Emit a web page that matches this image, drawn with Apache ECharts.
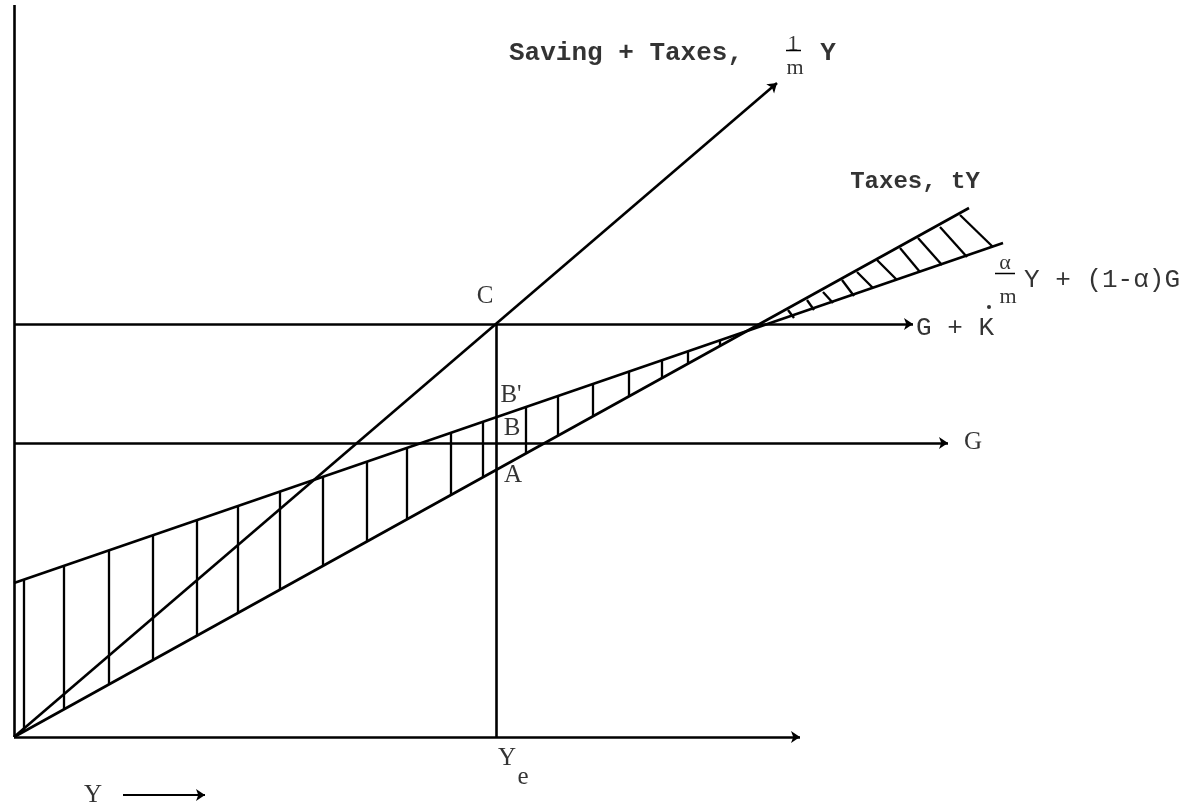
<!DOCTYPE html>
<html>
<head>
<meta charset="utf-8">
<script src="https://cdn.jsdelivr.net/npm/echarts@6/dist/echarts.min.js"></script>
<style>
  html, body { margin: 0; padding: 0; background: #fff; }
  #chart { width: 1197px; height: 812px; }
</style>
</head>
<body>
<div id="chart"></div>
<script>
// all coordinates in diagram units (1 unit ~ 10px), origin at Y = 0
const axisX = [[0, 0], [78.6, 0]]
const axisY = [[0, 0], [0, 73.2]]
const savingLine = [[0, 0], [76.3, 65.4]]
const taxLine = [[0, 0], [95.5, 52.9]]
const alphaLine = [[0, 15.4], [98.9, 49.4]]
const gLine = [[0, 29.4], [93.4, 29.4]]
const gkLine = [[0, 41.3], [89.9, 41.3]]
const yeLine = [[48.2, 0], [48.2, 41.3]]
const yArrow = [[10.9, -5.8], [19.1, -5.8]]

// vertical hatching between the two lines (left of the crossing)
const hatchX = [1.0, 5.0, 9.5, 13.9, 18.3, 22.4, 26.6, 30.9, 35.3, 39.3, 43.7, 46.9, 51.2, 54.4, 57.9, 61.5, 64.8, 67.4, 70.6]
const hatchTop = [15.7, 17.1, 18.7, 20.2, 21.7, 23.1, 24.6, 26.0, 27.5, 28.9, 30.4, 31.5, 33.0, 34.1, 35.3, 36.6, 37.7, 38.6, 39.7]
const hatchBottom = [0.6, 2.8, 5.3, 7.7, 10.1, 12.4, 14.7, 17.1, 19.6, 21.8, 24.2, 26.0, 28.4, 30.1, 32.1, 34.1, 35.9, 37.3, 39.1]

// slanted hatching right of the crossing
const slantFrom = [[77.4, 42.7], [79.3, 43.7], [80.9, 44.5], [82.8, 45.7], [84.3, 46.5], [86.3, 47.7], [88.6, 48.9], [90.4, 49.9], [92.6, 51.0], [94.6, 52.2]]
const slantTo = [[78.0, 41.9], [80.0, 42.7], [81.9, 43.4], [84.0, 44.1], [85.9, 44.9], [88.3, 45.7], [90.6, 46.5], [92.8, 47.2], [95.3, 48.0], [97.9, 49.0]]

// fraction bars
const fracBars = [[[77.2, 68.7], [78.7, 68.7]], [[98.1, 46.4], [100.1, 46.4]]]

// text labels: [x, y, text]
const bigLabels = [
  [61.2, 68.4, 'Saving + Taxes,'],
  [81.4, 68.4, 'Y'],
]
const taxLabel = [[90.1, 55.5, 'Taxes, tY']]
const fracLabels = [
  [77.9, 69.3, '1'],
  [78.1, 66.9, 'm'],
  [99.1, 47.4, 'α'],
  [99.4, 44.0, 'm'],
]
const letterLabels = [
  [47.1, 44.1, 'C'],
  [49.7, 34.2, "B'"],
  [49.8, 30.9, 'B'],
  [49.9, 26.2, 'A'],
  [95.9, 29.5, 'G'],
  [49.3, -2.1, 'Y'],
  [50.9, -4.0, 'e'],
  [7.9, -5.8, 'Y'],
]
const leftLabels = [
  [101.0, 45.7, 'Y + (1-α)G'],
  [90.2, 40.9, 'G + K'],
]
const kDot = [[97.5, 43.0]]

var chartDom = document.getElementById('chart')
var chart = echarts.init(chartDom)

const ink = '#000'
const segs = (arr) => arr.map(c => ({ coords: c }))

let option

option = {
  backgroundColor: '#fff',
  animation: false,
  grid: { left: 14, right: 0, top: 5, bottom: 0 },
  xAxis: { type: 'value', min: 0, max: 118.3, show: false },
  yAxis: { type: 'value', min: -7.5, max: 73.2, show: false },
  series: [
    {
      type: 'lines',
      coordinateSystem: 'cartesian2d',
      symbol: 'none',
      lineStyle: { color: ink, width: 2.6, opacity: 1 },
      data: segs([axisY, taxLine, alphaLine, yeLine])
    },
    {
      type: 'lines',
      coordinateSystem: 'cartesian2d',
      symbol: ['none', 'arrow'],
      symbolSize: 9,
      lineStyle: { color: ink, width: 2.6, opacity: 1 },
      data: segs([axisX, savingLine, gLine, gkLine])
    },
    {
      type: 'lines',
      coordinateSystem: 'cartesian2d',
      symbol: ['none', 'arrow'],
      symbolSize: 9,
      lineStyle: { color: ink, width: 2, opacity: 1 },
      data: segs([yArrow])
    },
    {
      type: 'lines',
      coordinateSystem: 'cartesian2d',
      symbol: 'none',
      lineStyle: { color: ink, width: 2.3, opacity: 1 },
      data: hatchX.map((x, i) => ({ coords: [[x, hatchTop[i]], [x, hatchBottom[i]]] }))
        .concat(slantFrom.map((p, i) => ({ coords: [p, slantTo[i]] })))
    },
    {
      type: 'lines',
      coordinateSystem: 'cartesian2d',
      symbol: 'none',
      lineStyle: { color: ink, width: 1.4, opacity: 1 },
      data: segs(fracBars)
    },
    {
      type: 'scatter',
      symbolSize: 4,
      itemStyle: { color: ink },
      data: kDot
    },
    {
      type: 'scatter',
      symbolSize: 0,
      clip: false,
      label: {
        show: true, position: 'inside', color: ink,
        fontFamily: 'Liberation Mono', fontSize: 26, fontWeight: 'bold',
        formatter: p => p.data[2]
      },
      data: bigLabels
    },
    {
      type: 'scatter',
      symbolSize: 0,
      clip: false,
      label: {
        show: true, position: 'inside', color: ink,
        fontFamily: 'Liberation Mono', fontSize: 24, fontWeight: 'bold',
        formatter: p => p.data[2]
      },
      data: taxLabel
    },
    {
      type: 'scatter',
      symbolSize: 0,
      clip: false,
      label: {
        show: true, position: 'inside', color: ink,
        fontFamily: 'Liberation Serif', fontSize: 22,
        formatter: p => p.data[2]
      },
      data: fracLabels
    },
    {
      type: 'scatter',
      symbolSize: 0,
      clip: false,
      label: {
        show: true, position: 'inside', color: ink,
        fontFamily: 'Liberation Serif', fontSize: 25,
        formatter: p => p.data[2]
      },
      data: letterLabels
    },
    {
      type: 'scatter',
      symbolSize: 0,
      clip: false,
      label: {
        show: true, position: 'right', distance: 0, color: ink,
        fontFamily: 'Liberation Mono', fontSize: 26,
        formatter: p => p.data[2]
      },
      data: leftLabels
    }
  ]
};

option && chart.setOption(option)
</script>
</body>
</html>
